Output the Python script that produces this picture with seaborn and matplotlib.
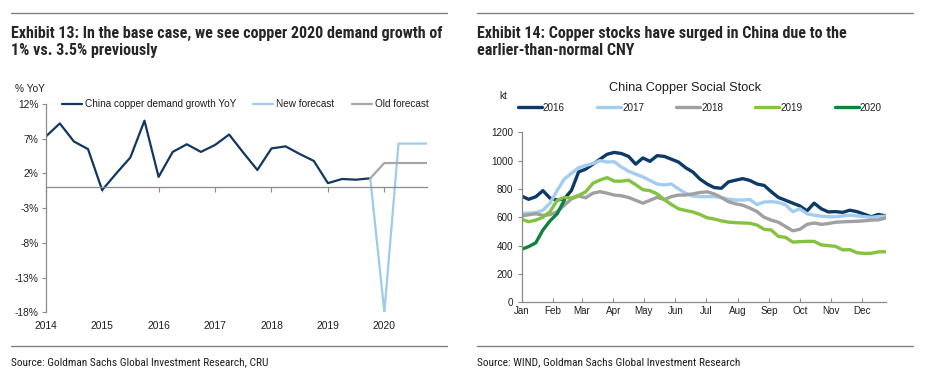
import matplotlib
matplotlib.use("Agg")
import numpy as np
import pandas as pd
import matplotlib.pyplot as plt
import seaborn as sns
from matplotlib.lines import Line2D
from matplotlib import font_manager
from matplotlib.font_manager import FontProperties

# ---------------- data: left chart (quarterly, % YoY) ----------------
hist_t = [2014.0, 2014.25, 2014.5, 2014.75, 2015.0, 2015.25, 2015.5, 2015.75,
          2016.0, 2016.25, 2016.5, 2016.75, 2017.0, 2017.25, 2017.5, 2017.75,
          2018.0, 2018.25, 2018.5, 2018.75, 2019.0, 2019.25, 2019.5, 2019.75]
hist_v = [7.3, 9.2, 6.6, 5.5, -0.4, 2.0, 4.3, 9.6,
          1.5, 5.1, 6.2, 5.1, 6.1, 7.6, 5.0, 2.5,
          5.6, 5.9, 4.8, 3.8, 0.6, 1.2, 1.1, 1.3]
fc_t = [2019.75, 2020.0, 2020.25, 2020.5, 2020.75]
new_fc = [1.3, -18.0, 6.3, 6.3, 6.3]
old_fc = [1.3, 3.5, 3.5, 3.5, 3.5]
left_yticks = [-18, -13, -8, -3, 2, 7, 12]
left_years = [2014, 2015, 2016, 2017, 2018, 2019, 2020]

# ---------------- data: right chart (weekly, kt) ----------------
months = ["Jan", "Feb", "Mar", "Apr", "May", "Jun", "Jul", "Aug", "Sep", "Oct", "Nov", "Dec"]
month_start_day = [0, 31, 59, 90, 120, 151, 181, 212, 243, 273, 304, 334]
s2016 = [750, 727, 745, 788, 735, 722, 730, 790, 920, 940, 975, 1010, 1045, 1058, 1050, 1030,
         975, 1019, 995, 1035, 1030, 1010, 990, 950, 920, 870, 835, 810, 805, 850, 862, 873,
         860, 835, 825, 780, 740, 720, 700, 680, 645, 700, 660, 638, 640, 635, 650, 640,
         622, 604, 620, 610]
s2017 = [628, 630, 632, 650, 700, 790, 870, 910, 950, 965, 980, 1000, 990, 992, 955, 925,
         905, 885, 860, 835, 828, 835, 800, 770, 750, 746, 746, 746, 738, 728, 722, 722,
         725, 690, 708, 710, 705, 688, 640, 660, 625, 615, 608, 604, 604, 610, 615, 610,
         605, 600, 605, 608]
s2018 = [609, 618, 625, 614, 618, 640, 685, 730, 750, 738, 770, 781, 770, 757, 752, 740,
         720, 700, 720, 741, 725, 746, 757, 757, 765, 775, 780, 765, 740, 710, 695, 685,
         665, 640, 600, 580, 565, 535, 505, 515, 550, 560, 550, 556, 565, 568, 570, 572,
         575, 580, 582, 595]
s2019 = [586, 569, 580, 600, 640, 720, 740, 736, 755, 780, 840, 863, 880, 855, 855, 862,
         830, 795, 788, 765, 725, 690, 660, 648, 638, 620, 597, 588, 575, 566, 562, 560,
         558, 545, 515, 510, 465, 458, 425, 428, 430, 430, 405, 400, 395, 370, 372, 350,
         345, 346, 356, 357]
s2020 = [374, 393, 420, 510, 575, 625, 720]
stock_years = ["2016", "2017", "2018", "2019", "2020"]
stock_series = [s2016, s2017, s2018, s2019, s2020]
stock_colors = ["#0D3A66", "#A3CDEE", "#A0A0A0", "#84C240", "#0E8340"]

# ---------------- style ----------------
sns.set_theme(style="white")
plt.rcParams["font.family"] = ["Liberation Sans", "DejaVu Sans"]
TXT = "#1E1E1E"
SPINE = "#8A8A8A"


def pick_condensed(bold):
    prefs = ["liberation sans narrow", "roboto condensed", "open sans condensed",
             "noto sans", "dejavu sans", "roboto", "open sans", "inter"]
    best, best_score = None, None
    for f in font_manager.fontManager.ttflist:
        nm = f.name.lower()
        fn = f.fname.lower()
        st = str(f.stretch).lower()
        cond = ("narrow" in nm or "condensed" in nm or "condensed" in st
                or "narrow" in fn or "condensed" in fn)
        if not cond or "extracondensed" in fn or "extra-condensed" in st:
            continue
        if "italic" in fn or "oblique" in fn or f.style != "normal":
            continue
        w = f.weight if isinstance(f.weight, int) else font_manager.weight_dict.get(f.weight, 400)
        if bold and w != 700:
            continue
        if not bold and w != 400:
            continue
        score = len(prefs)
        for i, p in enumerate(prefs):
            if nm.startswith(p):
                score = i
                break
        if best_score is None or score < best_score:
            best, best_score = f, score
    if best is None:
        return FontProperties(family=["Liberation Sans", "DejaVu Sans"],
                              weight="bold" if bold else "normal")
    return FontProperties(fname=best.fname)


FP_TITLE = pick_condensed(True)
FP_SRC = pick_condensed(False)

W, H = 932, 374
fig = plt.figure(figsize=(W / 100, H / 100), dpi=100)
fig.patch.set_facecolor("white")
renderer = fig.canvas.get_renderer()


def fx(px):
    return px / W


def fy(py):
    return 1 - py / H


def fitted_size(s, fp, target_w, base=11.0):
    t = fig.text(0, 0, s, fontproperties=fp, fontsize=base)
    w = t.get_window_extent(renderer).width
    t.remove()
    return base * target_w / w


# ---------------- left chart ----------------
ax1 = fig.add_axes([fx(45.7), fy(312.3), fx(381), 208.3 / H])
df_hist = pd.DataFrame({"t": hist_t, "v": hist_v})
df_new = pd.DataFrame({"t": fc_t, "v": new_fc})
df_old = pd.DataFrame({"t": fc_t, "v": old_fc})
sns.lineplot(data=df_hist, x="t", y="v", ax=ax1, color="#12375F", lw=1.6,
             label="China copper demand growth YoY")
sns.lineplot(data=df_new, x="t", y="v", ax=ax1, color="#9DCBEC", lw=1.6,
             label="New forecast")
sns.lineplot(data=df_old, x="t", y="v", ax=ax1, color="#A6A6A6", lw=1.6,
             label="Old forecast")
ax1.set_xlim(2014, 2020.75)
ax1.set_ylim(-18, 12)
ax1.set_xlabel("")
ax1.set_ylabel("")
ax1.set_yticks(left_yticks)
ax1.set_yticklabels([f"{v}%" for v in left_yticks])
ax1.set_xticks(left_years)
ax1.set_xticklabels([str(y) for y in left_years])
for s in ["top", "right"]:
    ax1.spines[s].set_visible(False)
for s in ["left", "bottom"]:
    ax1.spines[s].set_color(SPINE)
    ax1.spines[s].set_linewidth(0.9)
ax1.spines["bottom"].set_position(("data", 0))
ax1.tick_params(axis="y", left=True, direction="out", length=3, width=0.8,
                color=SPINE, labelsize=7.4, labelcolor=TXT, pad=2)
ax1.tick_params(axis="x", bottom=True, direction="out", length=3.5, width=0.8,
                color=SPINE, labelsize=7.4, labelcolor=TXT, pad=93)
ax1.legend(loc="center left", bbox_to_anchor=(0.042, 1.0), ncol=3, frameon=False,
           fontsize=7.2, handlelength=2.0, handletextpad=0.3, columnspacing=1.75,
           borderpad=0, borderaxespad=0, labelcolor=TXT)
fig.text(fx(15), fy(88.5), "% YoY", fontsize=7.3, color=TXT, va="center", ha="left")

# ---------------- right chart ----------------
ax2 = fig.add_axes([fx(521.5), fy(302.3), fx(364), 170 / H])
rows = []
for yr, ser in zip(stock_years, stock_series):
    for i, v in enumerate(ser):
        rows.append({"week": i, "kt": v, "year": yr})
df_stock = pd.DataFrame(rows)
sns.lineplot(data=df_stock, x="week", y="kt", hue="year", hue_order=stock_years,
             palette=dict(zip(stock_years, stock_colors)), lw=2.4, ax=ax2, sort=False)
ax2.set_xlim(0, 51)
ax2.set_ylim(0, 1200)
ax2.set_xlabel("")
ax2.set_ylabel("")
ax2.set_yticks([0, 200, 400, 600, 800, 1000, 1200])
ax2.set_xticks([d / 7 for d in month_start_day])
ax2.set_xticklabels(months)
for s in ["top", "right"]:
    ax2.spines[s].set_visible(False)
for s in ["left", "bottom"]:
    ax2.spines[s].set_color(SPINE)
    ax2.spines[s].set_linewidth(0.9)
ax2.tick_params(axis="y", left=True, direction="out", length=3, width=0.8,
                color=SPINE, labelsize=7.1, labelcolor=TXT, pad=3)
ax2.tick_params(axis="x", bottom=True, direction="in", length=3, width=0.8,
                color=SPINE, labelsize=7.1, labelcolor=TXT, pad=3)
h, l = ax2.get_legend_handles_labels()
ax2.legend(h, l, loc="center", bbox_to_anchor=(-0.0104, 1.115, 1.0, 0.06), mode="expand",
           ncol=5, frameon=False, fontsize=7.1, handlelength=2.45, handletextpad=0.1,
           borderpad=0, borderaxespad=0, labelcolor=TXT)
fig.text(fx(685), fy(88), "China Copper Social Stock", fontsize=9.2, color=TXT,
         ha="center", va="center")
fig.text(fx(503), fy(96), "kt", fontsize=7.3, color=TXT, ha="center", va="center")

# ---------------- titles, rules, sources ----------------
titles = [
    (11, ["Exhibit 13: In the base case, we see copper 2020 demand growth of",
          "1% vs. 3.5% previously"]),
    (477, ["Exhibit 14: Copper stocks have surged in China due to the",
           "earlier-than-normal CNY"]),
]
title_size = min(12.5, fitted_size(titles[0][1][0], FP_TITLE, 432))
for x0, lines in titles:
    for k, t in enumerate(lines):
        fig.text(fx(x0), fy(38.3 + 17 * k), t, fontproperties=FP_TITLE, fontsize=title_size,
                 color="#262626", va="baseline", ha="left")
    fig.add_artist(Line2D([fx(x0), fx(x0 + 436)], [fy(13), fy(13)], color="#7F7F7F", lw=1.0))
    fig.add_artist(Line2D([fx(x0), fx(x0 + 436)], [fy(345.7), fy(345.7)], color="#7F7F7F", lw=1.0))

src_left = "Source: Goldman Sachs Global Investment Research, CRU"
src_right = "Source: WIND, Goldman Sachs Global Investment Research"
src_size = min(9.0, fitted_size(src_left, FP_SRC, 258))
fig.text(fx(11), fy(365), src_left, fontproperties=FP_SRC, fontsize=src_size,
         color=TXT, va="baseline", ha="left")
fig.text(fx(477), fy(365), src_right, fontproperties=FP_SRC, fontsize=src_size,
         color=TXT, va="baseline", ha="left")

fig.savefig("out.png", dpi=100, facecolor="white")
